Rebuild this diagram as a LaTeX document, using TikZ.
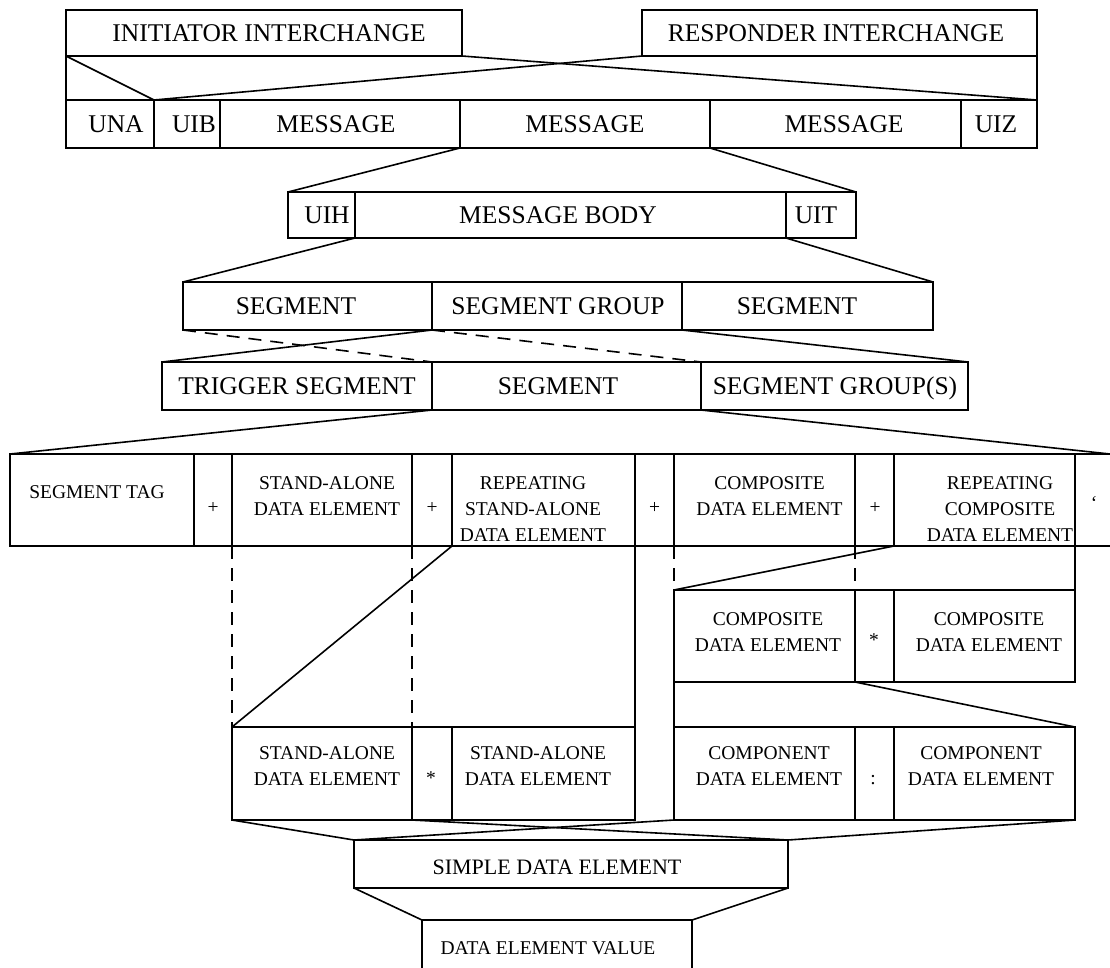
\documentclass[tikz,border=0pt]{standalone}
\usepackage{fontspec}
\setmainfont{Liberation Serif}
\newcommand{\bigf}{\fontsize{25.5}{28}\selectfont}
\newcommand{\smallf}{\fontsize{19.5}{26}\selectfont}
\newcommand{\midf}{\fontsize{22}{26}\selectfont}
\newcommand{\Cell}[5]{\node[bx, minimum width={(#4-#2)*1pt}, minimum height={(#5-#3)*1pt}] (#1) at (#2,#3) {};}
\begin{document}
\begin{tikzpicture}[x=1pt,y=-1pt,
  bx/.style={draw, line width=1.6pt, inner sep=0pt, outer sep=0pt, anchor=north west},
  nobx/.style={inner sep=0pt, outer sep=0pt, anchor=north west},
  ln/.style={line width=1.6pt},
  dl/.style={line width=1.6pt, dash pattern=on 13pt off 9pt},
  tb/.style={font=\bigf, inner sep=0pt, text depth=0pt, anchor=center},
  ts/.style={font=\smallf, inner sep=0pt, align=center, anchor=north},
  tsym/.style={font=\smallf, inner sep=0pt, anchor=center}]
\useasboundingbox (0,0) rectangle (1110,967);
% row 1
\Cell{init}{66}{10}{462}{56}
\Cell{resp}{642}{10}{1037}{56}
% row 2
\Cell{una}{66}{100}{154}{148}
\Cell{uib}{154}{100}{220}{148}
\Cell{msga}{220}{100}{460}{148}
\Cell{msgb}{460}{100}{710}{148}
\Cell{msgc}{710}{100}{961}{148}
\Cell{uiz}{961}{100}{1037}{148}
% row 3
\Cell{uih}{288}{192}{355}{238}
\Cell{body}{355}{192}{786}{238}
\Cell{uit}{786}{192}{856}{238}
% row 4
\Cell{sega}{183}{282}{432}{330}
\Cell{sgrp}{432}{282}{682}{330}
\Cell{segc}{682}{282}{933}{330}
% row 5
\Cell{trig}{162}{362}{432}{410}
\Cell{tseg}{432}{362}{701}{410}
\Cell{sgs}{701}{362}{968}{410}
% row 6
\Cell{tag}{10}{454}{194}{546}
\Cell{pa}{194}{454}{232}{546}
\Cell{sa}{232}{454}{412}{546}
\Cell{pb}{412}{454}{452}{546}
\Cell{rsa}{452}{454}{635}{546}
\Cell{pc}{635}{454}{674}{546}
\Cell{cde}{674}{454}{855}{546}
\Cell{pd}{855}{454}{894}{546}
\Cell{rcde}{894}{454}{1075}{546}
\node[nobx, minimum width=35pt, minimum height=92pt] (qc) at (1075,454) {};
\draw[ln] (qc.north west) -- (qc.north east);
\draw[ln] (qc.south west) -- (qc.south east);
% composite row
\Cell{cda}{674}{590}{855}{682}
\Cell{stb}{855}{590}{894}{682}
\Cell{cdb}{894}{590}{1075}{682}
% stand-alone row
\Cell{saa}{232}{727}{412}{820}
\Cell{sta}{412}{727}{452}{820}
\Cell{sab}{452}{727}{635}{820}
% component row
\Cell{cpa}{674}{727}{855}{820}
\Cell{col}{855}{727}{894}{820}
\Cell{cpb}{894}{727}{1075}{820}
% simple data element and value
\Cell{sde}{354}{840}{788}{888}
\Cell{dev}{422}{920}{692}{985}
% connectors
\draw[ln] (init.south west) -- (una.north east);
\draw[ln] (init.south west) -- (una.north west);
\draw[ln] (init.south east) -- (uiz.north east);
\draw[ln] (resp.south west) -- (una.north east);
\draw[ln] (resp.south east) -- (uiz.north east);
\draw[ln] (msgb.south west) -- (uih.north west);
\draw[ln] (msgb.south east) -- (uit.north east);
\draw[ln] (body.south west) -- (sega.north west);
\draw[ln] (body.south east) -- (segc.north east);
\draw[ln] (sgrp.south west) -- (trig.north west);
\draw[ln] (sgrp.south east) -- (sgs.north east);
\draw[dl] (sega.south west) -- (tseg.north west);
\draw[dl] (sega.south east) -- (tseg.north east);
\draw[ln] (tseg.south west) -- (tag.north west);
\draw[ln] (tseg.south east) -- (qc.north east);
\draw[dl] (sa.south west) -- (saa.north west);
\draw[dl] (sa.south east) -- (saa.north east);
\draw[ln] (rsa.south west) -- (saa.north west);
\draw[ln] (rsa.south east) -- (sab.north east);
\draw[dl] (cde.south west) -- (cda.north west);
\draw[dl] (cde.south east) -- (cda.north east);
\draw[ln] (rcde.south west) -- (cda.north west);
\draw[ln] (rcde.south east) -- (cdb.north east);
\draw[ln] (cda.south west) -- (cpa.north west);
\draw[ln] (cda.south east) -- (cpb.north east);
\draw[ln] (saa.south west) -- (sde.north west);
\draw[ln] (saa.south east) -- (sde.north east);
\draw[ln] (cpa.south west) -- (sde.north west);
\draw[ln] (cpb.south east) -- (sde.north east);
\draw[ln] (sde.south west) -- (dev.north west);
\draw[ln] (sde.south east) -- (dev.north east);
% texts
\node[tb] (t1) at (269,33) {INITIATOR INTERCHANGE};
\node[tb] (t2) at (836,33) {RESPONDER INTERCHANGE};
\node[tb] (t3) at (116,124) {UNA};
\node[tb] (t4) at (194,124) {UIB};
\node[tb] (t5) at (336,124) {MESSAGE};
\node[tb] (t6) at (585,124) {MESSAGE};
\node[tb] (t7) at (844,124) {MESSAGE};
\node[tb] (t8) at (996,124) {UIZ};
\node[tb] (t9) at (327,215) {UIH};
\node[tb] (t10) at (558,215) {MESSAGE BODY};
\node[tb] (t11) at (816,215) {UIT};
\node[tb] (t12) at (296,306) {SEGMENT};
\node[tb] (t13) at (558,306) {SEGMENT GROUP};
\node[tb] (t14) at (797,306) {SEGMENT};
\node[tb] (t15) at (297,386) {TRIGGER SEGMENT};
\node[tb] (t16) at (558,386) {SEGMENT};
\node[tb] (t17) at (835,386) {SEGMENT GROUP(S)};
\node[tsym] (t18) at (97,492) {SEGMENT TAG};
\node[tsym] (t19) at (213,508) {+};
\node[ts] (t20) at (327,476) {STAND-ALONE\\DATA ELEMENT};
\node[tsym] (t21) at (432,508) {+};
\node[ts] (t22) at (533,476) {REPEATING\\STAND-ALONE\\DATA ELEMENT};
\node[tsym] (t23) at (654.5,508) {+};
\node[ts] (t24) at (769.5,476) {COMPOSITE\\DATA ELEMENT};
\node[tsym] (t25) at (875,508) {+};
\node[ts] (t26) at (1000,476) {REPEATING\\COMPOSITE\\DATA ELEMENT};
\node[tsym] (t27) at (1094,503) {‘};
\node[ts] (t28) at (768,612.6) {COMPOSITE\\DATA ELEMENT};
\node[tsym] (t29) at (874,640) {*};
\node[ts] (t30) at (989,612.6) {COMPOSITE\\DATA ELEMENT};
\node[ts] (t31) at (327,746.6) {STAND-ALONE\\DATA ELEMENT};
\node[tsym] (t32) at (431,778) {*};
\node[ts] (t33) at (538,746.6) {STAND-ALONE\\DATA ELEMENT};
\node[ts] (t34) at (769,746.6) {COMPONENT\\DATA ELEMENT};
\node[tsym] (t35) at (873,780) {:};
\node[ts] (t36) at (981,746.6) {COMPONENT\\DATA ELEMENT};
\node[font=\midf, inner sep=0pt, text depth=0pt] (t37) at (557,867) {SIMPLE DATA ELEMENT};
\node[tsym] (t38) at (548,948) {DATA ELEMENT VALUE};
\end{tikzpicture}
\end{document}
